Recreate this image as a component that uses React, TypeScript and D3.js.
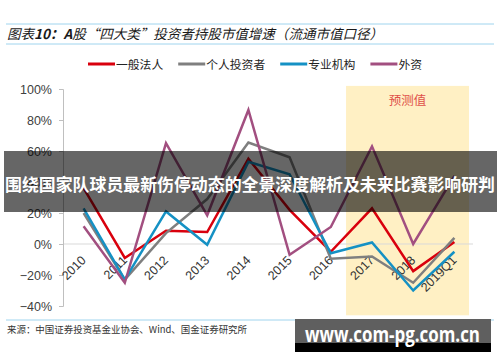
import React, { useEffect, useRef } from 'react';
import * as d3 from 'd3';

// categories on the x axis
const categories = ["2010", "2011", "2012", "2013", "2014", "2015", "2016", "2017", "2018", "2019Q1"];

// holding value growth by investor type
const corporate = [0.36, -0.09, 0.085, 0.077, 0.55, 0.22, -0.05, 0.23, -0.175, 0.013];
const individual = [0.20, -0.23, 0.07, 0.29, 0.655, 0.56, -0.095, -0.08, -0.25, 0.04];
const institution = [0.23, -0.23, 0.21, -0.005, 0.53, 0.45, -0.06, 0.01, -0.30, -0.05];
const foreign = [0.115, -0.25, 0.65, 0.185, 0.865, -0.07, 0.11, 0.63, 0.0, 0.44];

const seriesNames = ["一般法人", "个人投资者", "专业机构", "外资"];
const seriesColors = ["#d9000d", "#7f7f7f", "#1591c4", "#a24f80"];
const yTicks = [-0.4, -0.2, 0, 0.2, 0.4, 0.6, 0.8, 1.0];

const forecastFrom = "2016";
const forecastTo = "2019Q1";

const titleParts = [
  { t: "图表", bold: false },
  { t: "10：A", bold: true },
  { t: "股“四大类”投资者持股市值增速（流通市值口径）", bold: false },
];
const sourceText = "来源：中国证券投资基金业协会、Wind、国金证券研究所";
const bannerText = "围绕国家队球员最新伤停动态的全景深度解析及未来比赛影响研判";
const siteText = "www.com-pg.com.cn";

const W = 500;
const H = 362;
const cjk = "'Noto Sans CJK SC', 'Noto Sans', sans-serif";
const latin = "'Liberation Sans', Arial, sans-serif";

export default function App() {
  const ref = useRef<SVGSVGElement | null>(null);

  useEffect(() => {
    const svg = d3.select(ref.current);
    svg.selectAll("*").remove();

    const margin = { top: 89, right: 25, bottom: 56, left: 63 };

    const xScale = d3.scaleBand()
      .domain(categories)
      .range([margin.left, W - margin.right]);

    const yScale = d3.scaleLinear()
      .domain([-0.4, 1.0])
      .range([H - margin.bottom, margin.top]);

    const bw = xScale.bandwidth();
    const cx = (c: string) => (xScale(c) as number) + bw / 2;

    // title with rules above and below
    svg.append("line")
      .attr("x1", 6).attr("x2", 494).attr("y1", 24).attr("y2", 24)
      .attr("stroke", "#9fd4ee").attr("stroke-width", 1);
    svg.append("line")
      .attr("x1", 6).attr("x2", 494).attr("y1", 44).attr("y2", 44)
      .attr("stroke", "#9fd4ee").attr("stroke-width", 1);
    const title = svg.append("text")
      .attr("x", 7).attr("y", 39)
      .attr("font-family", cjk)
      .attr("font-size", 13.5)
      .attr("font-style", "italic")
      .attr("fill", "#1a1a1a")
      .attr("textLength", 376)
      .attr("lengthAdjust", "spacingAndGlyphs");
    titleParts.forEach(p => {
      title.append("tspan")
        .attr("font-weight", p.bold ? "bold" : "normal")
        .text(p.t);
    });

    // forecast shading
    const fx0 = (xScale(forecastFrom) as number) + bw * 0.87;
    const fx1 = (xScale(forecastTo) as number) + bw * 0.855;
    svg.append("rect")
      .attr("x", fx0).attr("y", yScale(1.02))
      .attr("width", fx1 - fx0)
      .attr("height", yScale(-0.46) - yScale(1.02))
      .attr("fill", "#fff0c4");
    svg.append("text")
      .attr("x", (fx0 + fx1) / 2).attr("y", 105)
      .attr("text-anchor", "middle")
      .attr("font-family", cjk)
      .attr("font-size", 12.5)
      .attr("fill", "#e0504a")
      .text("预测值");

    // zero line
    svg.append("line")
      .attr("x1", margin.left).attr("x2", W - margin.right - 2)
      .attr("y1", yScale(0)).attr("y2", yScale(0))
      .attr("stroke", "#d9d9d9").attr("stroke-width", 1);

    // y axis
    const yAxis = d3.axisLeft(yScale)
      .tickValues(yTicks)
      .tickFormat(d3.format(".0%"))
      .tickSize(4)
      .tickPadding(7);
    const gy = svg.append("g")
      .attr("transform", `translate(${margin.left},0)`)
      .call(yAxis);
    gy.select(".domain").attr("stroke", "#bfbfbf");
    gy.selectAll(".tick line").attr("stroke", "#bfbfbf");
    gy.selectAll(".tick text")
      .attr("font-family", latin)
      .attr("font-size", 12.5)
      .attr("fill", "#404040");

    // x labels, rotated
    svg.append("g")
      .selectAll("text")
      .data(categories)
      .enter().append("text")
      .attr("transform", d => `translate(${cx(d) + 3},${yScale(0) + 17}) rotate(-45)`)
      .attr("text-anchor", "end")
      .attr("font-family", latin)
      .attr("font-size", 12.5)
      .attr("fill", "#333")
      .text(d => d);

    // series lines
    const allSeries = [corporate, individual, institution, foreign];
    const lineGenerator = d3.line<number>()
      .x((d, i) => cx(categories[i]))
      .y(d => yScale(d));

    allSeries.forEach((values, k) => {
      svg.append("path")
        .attr("d", lineGenerator(values))
        .attr("fill", "none")
        .attr("stroke", seriesColors[k])
        .attr("stroke-width", 2.5)
        .attr("stroke-linejoin", "miter");
    });

    // legend
    const legend = svg.append("g").attr("transform", "translate(88,64)");
    let lx = 0;
    seriesNames.forEach((name, k) => {
      legend.append("line")
        .attr("x1", lx).attr("x2", lx + 27)
        .attr("y1", 0).attr("y2", 0)
        .attr("stroke", seriesColors[k])
        .attr("stroke-width", 3);
      const t = legend.append("text")
        .attr("x", lx + 28).attr("y", 4.5)
        .attr("font-family", cjk)
        .attr("font-size", 11.8)
        .attr("fill", "#222")
        .text(name);
      const len = (t.node() as SVGTextElement).getComputedTextLength();
      lx += 28 + len + 15;
    });

    // source note
    svg.append("line")
      .attr("x1", 6).attr("x2", 494).attr("y1", 320).attr("y2", 320)
      .attr("stroke", "#9fd4ee").attr("stroke-width", 1);
    svg.append("text")
      .attr("x", 7).attr("y", 333)
      .attr("font-family", cjk)
      .attr("font-size", 9.5)
      .attr("fill", "#333")
      .attr("textLength", 240)
      .attr("lengthAdjust", "spacingAndGlyphs")
      .text(sourceText);

    // overlay banner across the chart
    svg.append("rect")
      .attr("x", 4).attr("y", 151)
      .attr("width", 493).attr("height", 61)
      .attr("fill", "rgba(0,0,0,0.6)");
    svg.append("text")
      .attr("x", 250).attr("y", 191)
      .attr("text-anchor", "middle")
      .attr("font-family", cjk)
      .attr("font-size", 17)
      .attr("font-weight", "bold")
      .attr("fill", "#fff")
      .attr("textLength", 490)
      .attr("lengthAdjust", "spacingAndGlyphs")
      .text(bannerText);

    // site badge
    svg.append("rect")
      .attr("x", 295).attr("y", 319)
      .attr("width", 196).attr("height", 24)
      .attr("fill", "#5f5f5f");
    svg.append("rect")
      .attr("x", 295).attr("y", 343)
      .attr("width", 196).attr("height", 9)
      .attr("fill", "#000");
    svg.append("text")
      .attr("x", 305).attr("y", 342)
      .attr("font-family", "'Open Sans', sans-serif")
      .attr("font-size", 21)
      .attr("font-weight", "bold")
      .attr("fill", "#fff")
      .attr("textLength", 175)
      .attr("lengthAdjust", "spacingAndGlyphs")
      .text(siteText);
  }, []);

  return (
    <svg
      ref={ref}
      width={W}
      height={H}
      style={{ position: "absolute", left: 0, top: 0, background: "#fff" }}
    />
  );
}
